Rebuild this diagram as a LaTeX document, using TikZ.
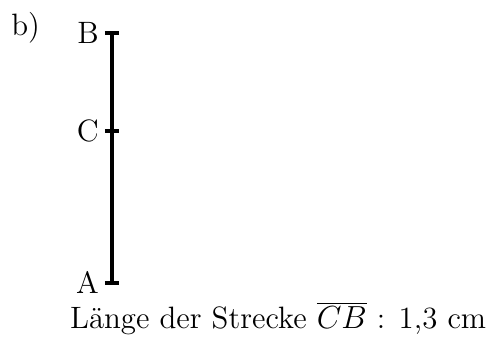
\documentclass[tikz,border=0pt]{standalone}
\usepackage{fontspec}
\usetikzlibrary{positioning}
\tikzset{strecke/.style={line width=1.5pt},
  marke/.style={line width=1.5pt}}
\begin{document}
\begin{tikzpicture}[font=\fontsize{11.6}{14}\selectfont]
\useasboundingbox (-1.478,-0.765) rectangle (5.04,3.73);
\coordinate (A) at (0,0);
\coordinate (C) at (0,2);
\coordinate (B) at (0,3.3);
\draw[strecke] (A) -- (B);
\foreach \p in {A,B,C}
  \draw[marke] ([xshift=-0.095cm]\p) -- ([xshift=0.095cm]\p) node[left=0pt,inner sep=1.5pt,pos=0]{\p};
\node (teil) at (-1.14,3.36) {b)};
\node[anchor=base west,inner sep=0pt] (laenge) at (-0.56,-0.607) {Länge der Strecke $\overline{CB}$ : 1,3 cm};
\end{tikzpicture}
\end{document}
